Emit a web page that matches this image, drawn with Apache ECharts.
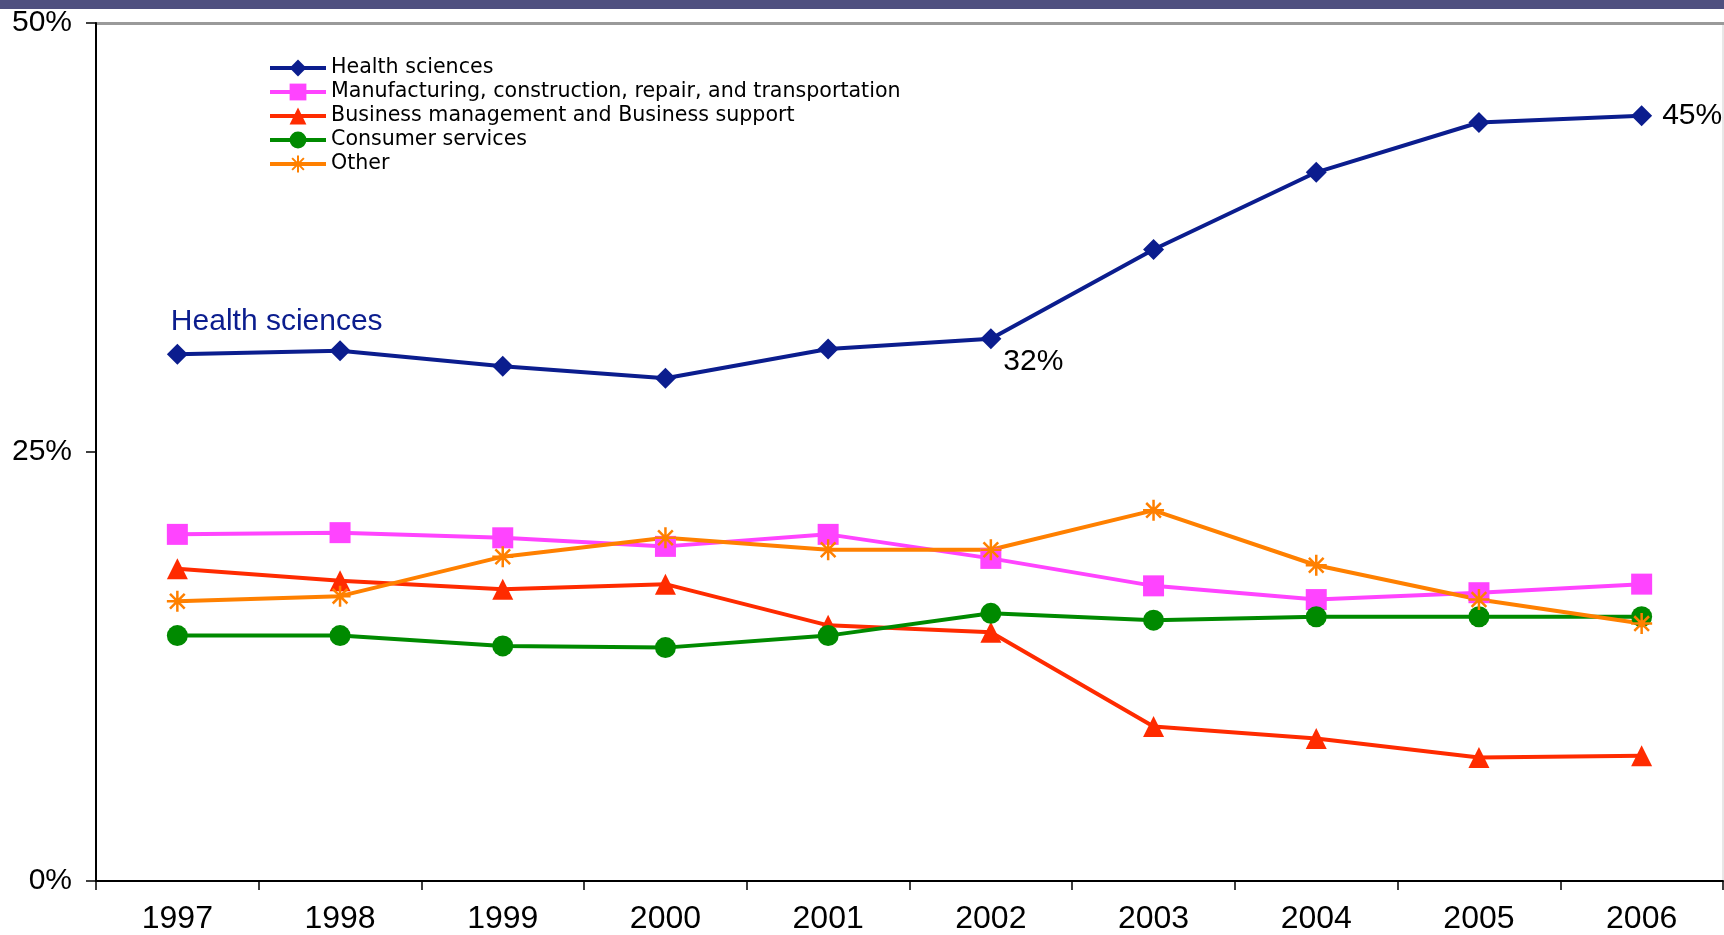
<!DOCTYPE html>
<html>
<head>
<meta charset="utf-8">
<script src="https://cdn.jsdelivr.net/npm/echarts@6/dist/echarts.min.js"></script>
<style>
html,body{margin:0;padding:0;background:#fff;}
#chart{width:1724px;height:935px;}
</style>
</head>
<body>
<div id="chart"></div>
<script>
const years = ['1997','1998','1999','2000','2001','2002','2003','2004','2005','2006'];
const healthSciences = [30.7, 30.9, 30.0, 29.3, 31.0, 31.6, 36.8, 41.3, 44.2, 44.6];
const manufacturing = [20.2, 20.3, 20.0, 19.5, 20.2, 18.8, 17.2, 16.4, 16.8, 17.3];
const businessMgmt = [18.2, 17.5, 17.0, 17.3, 14.9, 14.5, 9.0, 8.3, 7.2, 7.3];
const consumerServices = [14.3, 14.3, 13.7, 13.6, 14.3, 15.6, 15.2, 15.4, 15.4, 15.4];
const other = [16.3, 16.6, 18.9, 20.0, 19.3, 19.3, 21.6, 18.4, 16.4, 15.0];
const seriesNames = ['Health sciences', 'Manufacturing, construction, repair, and transportation', 'Business management and Business support', 'Consumer services', 'Other'];
const yTicks = [0, 25, 50];
const pointLabels = {0: 'Health sciences', 5: '32%', 9: '45%'};

const FONT = '"Liberation Sans", Arial, sans-serif';
const asterisk = 'path://M10 0L10 20M0 10L20 10M3 3L17 17M17 3L3 17';

const healthData = healthSciences.map((v, i) => {
  if (i === 0) {
    return {value: v, label: {show: true, formatter: pointLabels[0], position: [4, -22], align: 'left', verticalAlign: 'middle', color: '#0b1d8e', fontSize: 30, fontFamily: FONT}};
  }
  if (i === 5) {
    return {value: v, label: {show: true, formatter: pointLabels[5], position: 'right', offset: [-3, 23], color: '#000', fontSize: 30, fontFamily: FONT}};
  }
  if (i === 9) {
    return {value: v, label: {show: true, formatter: pointLabels[9], position: 'right', offset: [5, 0], color: '#000', fontSize: 30, fontFamily: FONT}};
  }
  return v;
});

function mk(name, data, color, symbol, size, extra) {
  return Object.assign({
    name: name,
    type: 'line',
    data: data,
    symbol: symbol,
    symbolSize: size,
    showAllSymbol: true,
    lineStyle: {color: color, width: 4},
    itemStyle: {color: color},
    emphasis: {disabled: true},
    animation: false,
    z: 3
  }, extra || {});
}

const chart = echarts.init(document.getElementById('chart'), null, {renderer: 'canvas'});
chart.setOption({
  animation: false,
  backgroundColor: '#fff',
  graphic: [
    {type: 'rect', shape: {x: 0, y: 0, width: 1724, height: 9}, style: {fill: '#4f507f'}, silent: true},
    {type: 'rect', shape: {x: 96, y: 22, width: 1628, height: 3}, style: {fill: '#9a9a9a'}, silent: true}
  ],
  grid: {left: 96, right: 1, top: 23, bottom: 53, show: true, borderColor: '#d0d0d0', borderWidth: 1, containLabel: false},
  legend: {
    orient: 'vertical',
    left: 263,
    top: 52,
    itemWidth: 56,
    itemHeight: 21,
    itemGap: 2,
    lineStyle: {width: 4},
    textStyle: {fontFamily: '"DejaVu Sans", sans-serif', fontSize: 20.6, color: '#000', lineHeight: 22},
    data: seriesNames
  },
  xAxis: {
    type: 'category',
    data: years,
    boundaryGap: true,
    axisLine: {lineStyle: {color: '#000', width: 2}},
    axisTick: {show: true, length: 9, lineStyle: {color: '#000', width: 1.5}},
    axisLabel: {fontFamily: FONT, fontSize: 32, color: '#000', margin: 22},
    splitLine: {show: false}
  },
  yAxis: {
    type: 'value',
    min: yTicks[0],
    max: yTicks[yTicks.length - 1],
    interval: yTicks[1] - yTicks[0],
    axisLine: {show: true, lineStyle: {color: '#000', width: 2}},
    axisTick: {show: true, length: 10, lineStyle: {color: '#000', width: 1.5}},
    axisLabel: {fontFamily: FONT, fontSize: 30, color: '#000', margin: 24, formatter: '{value}%'},
    splitLine: {show: false}
  },
  series: [
    mk(seriesNames[0], healthData, '#0b1d8e', 'diamond', 21),
    mk(seriesNames[1], manufacturing, '#ff44ff', 'rect', 21),
    mk(seriesNames[2], businessMgmt, '#ff2b00', 'triangle', 21),
    mk(seriesNames[3], consumerServices, '#008a00', 'circle', 21),
    mk(seriesNames[4], other, '#ff8000', asterisk, 21, {itemStyle: {color: '#ff8000', borderColor: '#ff8000', borderWidth: 2.5}})
  ]
});
</script>
</body>
</html>
